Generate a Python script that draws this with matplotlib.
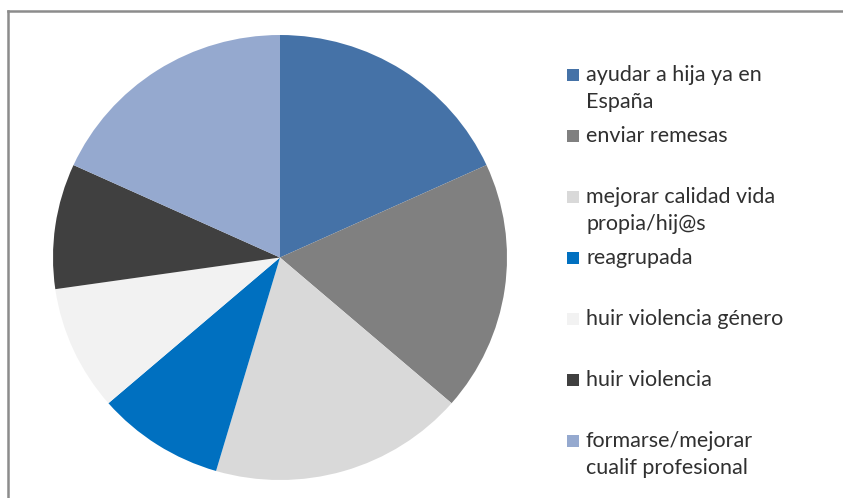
import matplotlib
matplotlib.use("Agg")
import matplotlib.pyplot as plt
from matplotlib.patches import Rectangle
from matplotlib.lines import Line2D

categories = ["ayudar a hija ya en\nEspaña", "enviar remesas", "mejorar calidad vida\npropia/hij@s",
              "reagrupada", "huir violencia género", "huir violencia",
              "formarse/mejorar\ncualif profesional"]
values = [2, 2, 2, 1, 1, 1, 2]
colors = ["#4572A7", "#808080", "#D9D9D9", "#0070C0", "#F2F2F2", "#404040", "#95A9CF"]

W, H = 843, 498
fig = plt.figure(figsize=(W / 100, H / 100), dpi=100)
fig.patch.set_facecolor("white")

# border (top and left visible)
fig.add_artist(Line2D([8 / W, 8 / W], [0, 1 - 11 / H], transform=fig.transFigure, color="#8C8C8C", lw=1.8))
fig.add_artist(Line2D([8 / W, 1], [1 - 11 / H, 1 - 11 / H], transform=fig.transFigure, color="#8C8C8C", lw=1.8))

cx, cy, rx, ry = 280, 257.5, 227, 222.5
ax = fig.add_axes([(cx - rx) / W, 1 - (cy + ry) / H, 2 * rx / W, 2 * ry / H])
ax.pie(values, colors=colors, startangle=90, counterclock=False,
       wedgeprops=dict(linewidth=0))
ax.set_aspect("auto")
ax.set_xlim(-1, 1)
ax.set_ylim(-1, 1)
ax.axis("off")

# legend
y0, dy, lh = 75, 61, 27
for i, (lab, col) in enumerate(zip(categories, colors)):
    y = y0 + dy * i
    fig.add_artist(Rectangle((567 / W, 1 - (y + 6) / H), 12 / W, 12 / H,
                             transform=fig.transFigure, facecolor=col, edgecolor="none"))
    for k, line in enumerate(lab.split("\n")):
        fig.text(586 / W, 1 - (y + lh * k) / H, line, fontsize=15.5, family="Lato",
                 color="#303030", va="center", ha="left")

fig.savefig("out.png", dpi=100)
